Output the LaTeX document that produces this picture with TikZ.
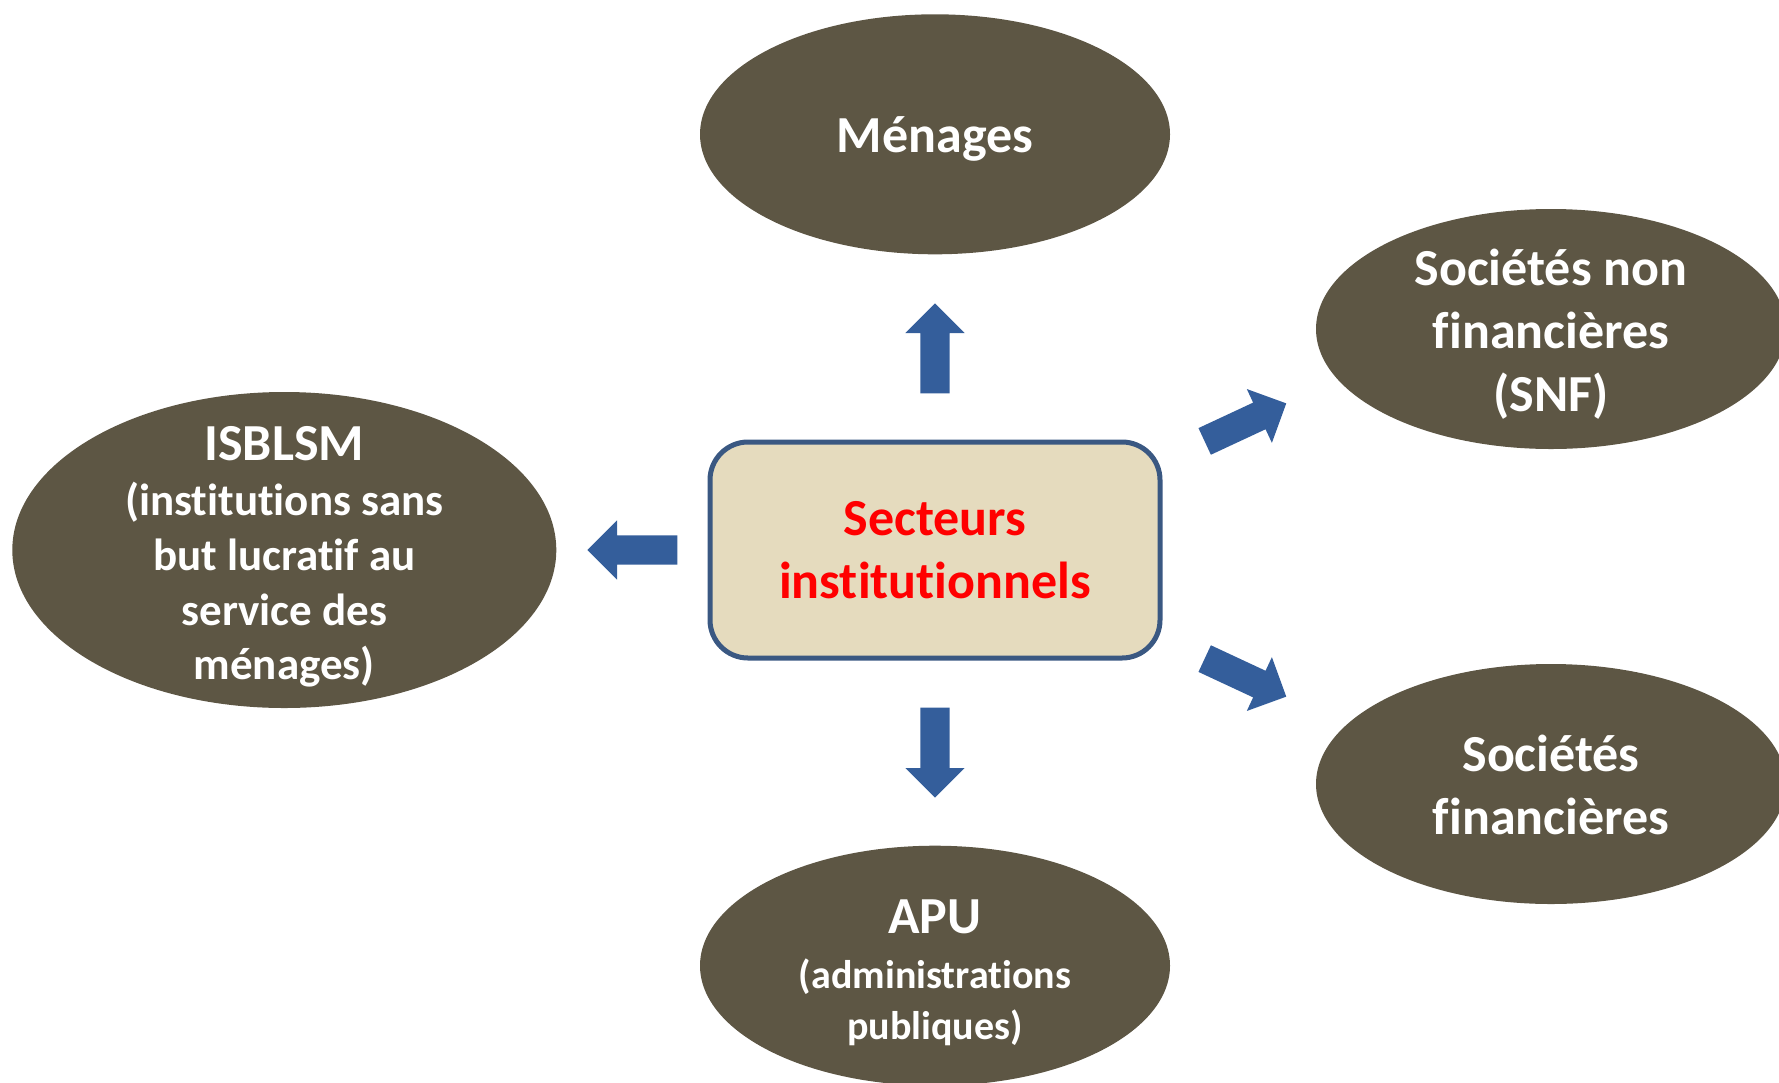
\documentclass[tikz,border=0pt]{standalone}
\usepackage{fontspec}
\setmainfont{Carlito}[Ligatures=NoCommon]
\usepackage{tikz}
\usetikzlibrary{shapes.geometric, shapes.arrows, positioning, calc}
\definecolor{sectorfill}{RGB}{93,86,68}
\definecolor{arrowblue}{RGB}{52,94,155}
\definecolor{centrefill}{RGB}{229,219,190}
\definecolor{centreborder}{RGB}{58,88,130}
\definecolor{centretext}{RGB}{255,0,0}
\tikzset{
  centrebox/.style={
    draw=centreborder, fill=centrefill, line width=5pt,
    rounded corners=38pt, minimum width=450pt,
    minimum height=216pt, align=center,
    text=centretext, font=\bfseries\fontsize{52}{63}\selectfont
  },
  sectorbox/.style={
    ellipse, fill=sectorfill, draw=none, inner sep=0pt,
    minimum width=470pt, minimum height=240pt
  },
  sectortext/.style={
    text=white, align=center, yshift=-5pt,
    font=\bfseries\fontsize{52}{63}\selectfont
  },
  blockarrow/.style={
    single arrow, fill=arrowblue, draw=none,
    inner xsep=0pt, inner ysep=14.5pt,
    minimum height=90pt, minimum width=59pt,
    single arrow head extend=15pt, anchor=tail
  },
}

\begin{document}
\begin{tikzpicture}[x=1pt, y=-1pt, node distance=185pt]

  \useasboundingbox (0,0) rectangle (1779,1082);

  %% Centre
  \node[centrebox] (centre) at (935,550) {Secteurs\\institutionnels};

  %% Sectors
  \node[sectorbox, above=of centre] (menages) {};
  \node[sectortext] (menages-t) at (menages) {Ménages};

  \node[sectorbox, below=of centre] (apu) {};
  \node[sectortext, font=\bfseries\fontsize{40}{51}\selectfont, yshift=-2pt]
    (apu-t) at (apu) {{\fontsize{52}{63}\selectfont APU}\\[3.5pt]
    (administrations\\publiques)};

  \node[sectorbox, minimum width=544pt, minimum height=316pt,
        left=151pt of centre] (isb) {};
  \node[sectortext, font=\bfseries\fontsize{45}{54.5}\selectfont, yshift=-2pt]
    (isb-t) at (isb) {{\fontsize{52}{63}\selectfont ISBLSM}\\[0.5pt]
    (institutions sans\\but lucratif au\\service des\\ménages)};

  \node[sectorbox] (snf) at (1551,329) {};
  \node[sectortext] (snf-t) at (snf)
    {Sociétés non\\financières\\(SNF)};

  \node[sectorbox] (sf) at (1551,784) {};
  \node[sectortext, yshift=4.5pt] (sf-t) at (sf) {Sociétés\\financières};

  %% Block arrows
  \node[blockarrow, rotate=90] (a-up) at ($(centre.north)+(0,-46)$) {};
  \node[blockarrow, rotate=-90] (a-down) at ($(centre.south)+(0,47)$) {};
  \node[blockarrow, rotate=180] (a-left) at ($(centre.west)+(-30,0)$) {};
  \node[blockarrow, rotate=25] (a-snf) at ($(centre.north east)+(42,2)$) {};
  \node[blockarrow, rotate=-25] (a-sf) at ($(centre.south east)+(42,-2)$) {};

\end{tikzpicture}
\end{document}
